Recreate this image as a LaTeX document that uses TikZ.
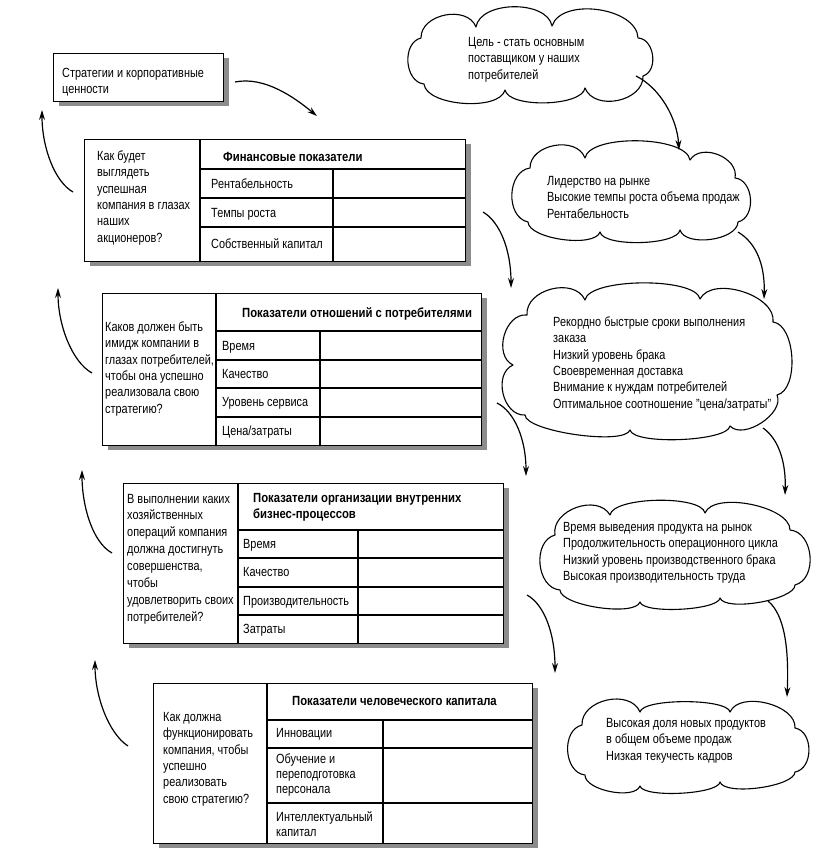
\documentclass[tikz,border=0pt]{standalone}
\usepackage{fontspec}
\setmainfont{Liberation Sans}[FakeStretch=0.82, BoldFeatures={FakeStretch=0.85}]
\usetikzlibrary{arrows.meta,shadows}
\begin{document}
\begin{tikzpicture}[x=1pt,y=-1pt,
  txt/.style={inner sep=0pt, anchor=north west, align=left, font=\fontsize{13.3}{16.3}\selectfont},
  celltxt/.style={txt, font=\fontsize{13.3}{15}\selectfont},
  qtxt/.style={txt, font=\fontsize{13.3}{16.9}\selectfont},
  hdr/.style={txt, font=\fontsize{13.3}{16.3}\selectfont\bfseries},
  frame/.style={draw, line width=1.1pt, fill=white, anchor=north west, inner sep=0pt,
    drop shadow={shadow xshift=5pt, shadow yshift=-4pt, fill=black!45, opacity=1}},
  tline/.style={line width=1.1pt},
  cloudline/.style={draw, line width=1.1pt, line join=round},
  puff/.style={bend left=80, looseness=1.1},
  flow/.style={line width=1.2pt, -{Stealth[length=10pt,width=6pt]}}
]
\useasboundingbox (0,0) rectangle (834,850);
\fill[white] (0,0) rectangle (834,850);

% ---------- strategy box
\node[frame, minimum width=170pt, minimum height=48pt] (strat) at (53,53) {};
\node[txt] (strattxt) at (62,66) {\strut Стратегии и корпоративные\\ценности};

% ---------- table 1
\node[frame, minimum width=381pt, minimum height=122pt] (t1) at (84,139) {};
\draw[tline] (200,139) -- (200,261);
\draw[tline] (200,169) -- (465,169);
\draw[tline] (200,198) -- (465,198);
\draw[tline] (200,227) -- (465,227);
\draw[tline] (333,169) -- (333,261);
\node[hdr] (t1h) at (223,150) {\strut Финансовые показатели};
\node[txt] (t1q) at (97,149) {\strut Как будет\\выглядеть\\успешная\\компания в глазах\\наших\\акционеров?};
\node[txt] (t1r1) at (211,177) {\strut Рентабельность};
\node[txt] (t1r2) at (211,206) {\strut Темпы роста};
\node[txt] (t1r3) at (211,237) {\strut Собственный капитал};

% ---------- table 2
\node[frame, minimum width=379pt, minimum height=152pt] (t2) at (102,293) {};
\draw[tline] (216,293) -- (216,445);
\draw[tline] (216,331) -- (481,331);
\draw[tline] (216,360) -- (481,360);
\draw[tline] (216,388) -- (481,388);
\draw[tline] (216,417) -- (481,417);
\draw[tline] (320,331) -- (320,445);
\node[hdr] (t2h) at (242,306) {\strut Показатели отношений с потребителями};
\node[txt] (t2q) at (105,320) {\strut Каков должен быть\\имидж компании в\\глазах потребителей,\\чтобы она  успешно\\реализовала свою\\стратегию?};
\node[txt] (t2r1) at (222,339) {\strut Время};
\node[txt] (t2r2) at (222,367) {\strut Качество};
\node[txt] (t2r3) at (222,395) {\strut Уровень сервиса};
\node[txt] (t2r4) at (222,424) {\strut Цена/затраты};

% ---------- table 3
\node[frame, minimum width=380pt, minimum height=160pt] (t3) at (123,483) {};
\draw[tline] (238,483) -- (238,643);
\draw[tline] (238,530) -- (503,530);
\draw[tline] (238,558) -- (503,558);
\draw[tline] (238,587) -- (503,587);
\draw[tline] (238,615) -- (503,615);
\draw[tline] (358,530) -- (358,643);
\node[hdr] (t3h) at (253,491) {\strut Показатели организации внутренних\\бизнес-процессов};
\node[qtxt] (t3q) at (127,491) {\strut В выполнении каких\\хозяйственных\\операций компания\\должна достигнуть\\совершенства,\\чтобы\\удовлетворить своих\\потребителей?};
\node[txt] (t3r1) at (243,537) {\strut Время};
\node[txt] (t3r2) at (243,565) {\strut Качество};
\node[txt] (t3r3) at (243,594) {\strut Производительность};
\node[txt] (t3r4) at (243,622) {\strut Затраты};

% ---------- table 4
\node[frame, minimum width=379pt, minimum height=160pt] (t4) at (153,683) {};
\draw[tline] (267,683) -- (267,843);
\draw[tline] (267,720) -- (532,720);
\draw[tline] (267,748) -- (532,748);
\draw[tline] (267,803) -- (532,803);
\draw[tline] (383,720) -- (383,843);
\node[hdr] (t4h) at (292,694) {\strut Показатели человеческого капитала};
\node[txt] (t4q) at (163,710) {\strut Как должна\\функционировать\\компания, чтобы\\успешно\\реализовать\\свою стратегию?};
\node[celltxt] (t4r1) at (276,727) {\strut Инновации};
\node[celltxt] (t4r2) at (276,753) {\strut Обучение и\\переподготовка\\персонала};
\node[celltxt] (t4r3) at (276,811) {\strut Интеллектуальный\\капитал};

% ---------- clouds
\draw[cloudline] (424,84) to[puff] (421,38) to[puff] (476,27) to[puff, looseness=.9] (552,26)
  to[puff, looseness=.9] (638,38) to[puff] (643,76) to[puff] (585,88)
  to[puff, looseness=.6] (505,90) to[puff, looseness=.7] (424,84) -- cycle;
\node[txt] (cl1t) at (468,35) {\strut Цель - стать основным\\поставщиком у наших\\потребителей};

\draw[cloudline] (528,222) to[puff] (530,168) to[puff] (585,158) to[puff, looseness=.6] (690,160)
  to[puff] (735,178) to[puff] (738,222) to[puff, looseness=.8] (680,230)
  to[puff, looseness=.5] (600,232) to[puff, looseness=.6] (528,222) -- cycle;
\node[txt] (cl2t) at (547,174) {\strut Лидерство на рынке\\Высокие темпы роста объема продаж\\Рентабельность};

\draw[cloudline] (525,415) to[puff] (513,365) to[puff] (527,315) to[puff] (585,300)
  to[puff, looseness=.5] (700,299) to[puff, looseness=.9] (773,322) to[puff, looseness=.8] (777,395)
  to[puff, looseness=.9] (730,426) to[puff, looseness=.4] (630,430) to[puff, looseness=.4] (525,415) -- cycle;
\node[txt] (cl3t) at (553,315) {\strut Рекордно быстрые сроки выполнения\\заказа\\Низкий уровень брака\\Своевременная доставка\\Внимание к нуждам потребителей\\Оптимальное соотношение "цена/затраты"};

\draw[cloudline] (560,590) to[puff] (555,535) to[puff] (610,515) to[puff, looseness=.5] (705,513)
  to[puff, looseness=.7] (790,530) to[puff] (795,585) to[puff, looseness=.5] (720,598)
  to[puff, looseness=.4] (640,602) to[puff, looseness=.5] (560,590) -- cycle;
\node[txt] (cl4t) at (563,520) {\strut Время выведения продукта на рынок\\Продолжительность операционного цикла\\Низкий уровень производственного брака\\Высокая производительность труда};

\draw[cloudline] (585,775) to[puff] (582,725) to[puff] (640,712) to[puff, looseness=.4] (730,712)
  to[puff, looseness=.9] (795,728) to[puff] (795,772) to[puff, looseness=.5] (720,782)
  to[puff, looseness=.4] (640,786) to[puff, looseness=.7] (585,775) -- cycle;
\node[txt] (cl5t) at (606,716) {\strut Высокая доля новых продуктов\\в общем объеме продаж\\Низкая текучесть кадров};

% ---------- connector end points
\coordinate (a0s) at (235,82);   \coordinate (a0e) at (317,116);
\coordinate (a1s) at (636,76);   \coordinate (a1e) at (679,150);
\coordinate (a2s) at (738,232);  \coordinate (a2e) at (764,299);
\coordinate (a3s) at (763,428);  \coordinate (a3e) at (785,495);
\coordinate (a4s) at (768,601);  \coordinate (a4e) at (787,697);
\coordinate (b1s) at (483,212);  \coordinate (b1e) at (511,288);
\coordinate (b2s) at (497,403);  \coordinate (b2e) at (526,476);
\coordinate (b3s) at (527,595);  \coordinate (b3e) at (555,673);
\coordinate (c1s) at (73,192);   \coordinate (c1e) at (42,110);
\coordinate (c2s) at (92,373);   \coordinate (c2e) at (58,288);
\coordinate (c3s) at (112,553);  \coordinate (c3e) at (82,470);
\coordinate (c4s) at (128,746);  \coordinate (c4e) at (95,660);

% ---------- connectors
\draw[flow] (a0s) .. controls (265,76) and (295,98) .. (a0e);
\draw[flow] (a1s) .. controls (660,88) and (677,118) .. (a1e);
\draw[flow] (a2s) .. controls (758,244) and (765,268) .. (a2e);
\draw[flow] (a3s) .. controls (780,440) and (786,465) .. (a3e);
\draw[flow] (a4s) .. controls (785,615) and (789,650) .. (a4e);
\draw[flow] (b1s) .. controls (500,222) and (511,250) .. (b1e);
\draw[flow] (b2s) .. controls (515,412) and (526,440) .. (b2e);
\draw[flow] (b3s) .. controls (545,605) and (555,635) .. (b3e);
\draw[flow] (c1s) .. controls (55,182) and (42,148) .. (c1e);
\draw[flow] (c2s) .. controls (72,362) and (58,325) .. (c2e);
\draw[flow] (c3s) .. controls (92,542) and (82,505) .. (c3e);
\draw[flow] (c4s) .. controls (108,733) and (95,695) .. (c4e);
\end{tikzpicture}
\end{document}
